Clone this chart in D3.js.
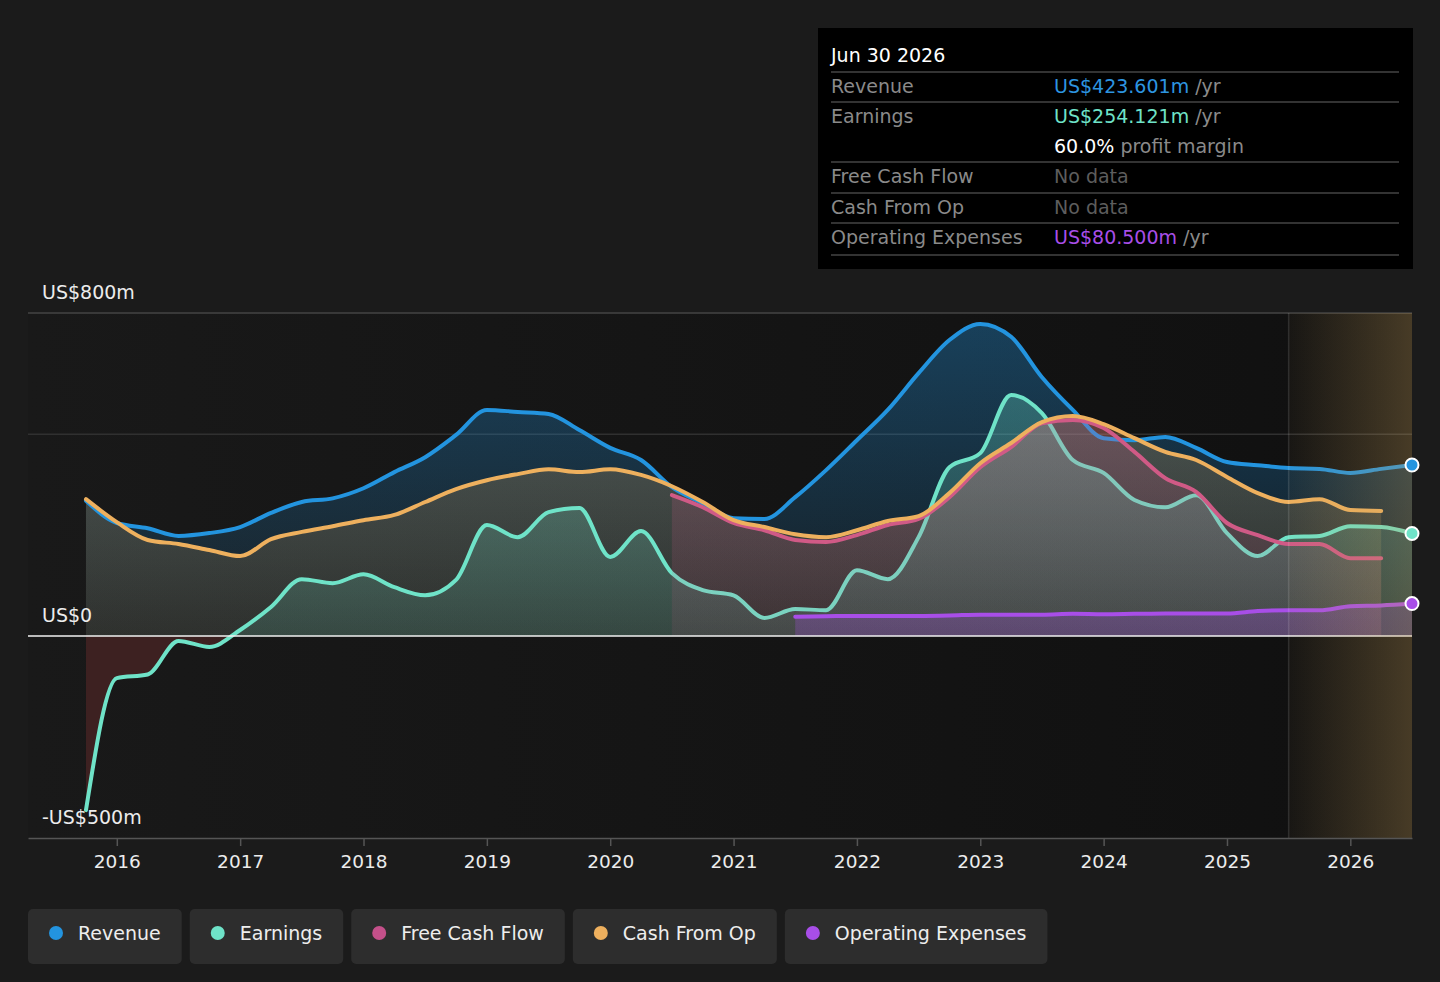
<!DOCTYPE html>
<html>
<head>
<meta charset="utf-8">
<script src="https://cdn.jsdelivr.net/npm/d3@7"></script>
<style>
body { margin: 0; background: #1b1b1b; }
svg { display: block; font-family: "DejaVu Sans", sans-serif; }
</style>
</head>
<body>
<svg id="chart" width="1440" height="982"></svg>
<script>
// quarter ends, as fractional years
var quarters = [2015.75,
  2016, 2016.25, 2016.5, 2016.75,
  2017, 2017.25, 2017.5, 2017.75,
  2018, 2018.25, 2018.5, 2018.75,
  2019, 2019.25, 2019.5, 2019.75,
  2020, 2020.25, 2020.5, 2020.75,
  2021, 2021.25, 2021.5, 2021.75,
  2022, 2022.25, 2022.5, 2022.75,
  2023, 2023.25, 2023.5, 2023.75,
  2024, 2024.25, 2024.5, 2024.75,
  2025, 2025.25, 2025.5, 2025.75,
  2026, 2026.25, 2026.5]

// US$m, trailing twelve months
var revenue = [335,
  280, 267, 248, 255,
  270, 305, 332, 341,
  366, 406, 443, 498,
  560, 555, 550, 510,
  466, 436, 369, 329,
  292, 290, 344, 411,
  485, 560, 651, 733,
  773, 741, 641, 560,
  490, 485, 493, 466,
  431, 423, 416, 414,
  404, 414, 423.6]

var earnings = [-431,
  -104, -95, -12, -27,
  15, 72, 141, 131,
  153, 121, 101, 139,
  275, 245, 307, 317,
  196, 260, 156, 114,
  101, 45, 67, 64,
  163, 141, 245, 418,
  453, 597, 552, 436,
  404, 337, 319, 349,
  255, 198, 245, 248,
  272, 270, 254.1]

var cashFromOp = [339,
  282, 238, 228, 213,
  198, 240, 258, 272,
  287, 300, 332, 364,
  386, 401, 413, 406,
  413, 399, 371, 332,
  287, 270, 252, 245,
  262, 285, 297, 354,
  428, 478, 530, 545,
  525, 490, 456, 436,
  394, 354, 332, 339,
  312, 310]

var fcfFrom = 2020.5
var freeCashFlow = [349, 319,
  280, 262, 238, 233,
  250, 275, 290, 344,
  418, 468, 527, 535,
  515, 456, 391, 357,
  280, 250, 228, 228,
  193, 193]

var opexFrom = 2021.5
var opex = [48, 49,
  50, 50, 50, 51,
  53, 53, 53, 55,
  54, 55, 56, 56,
  56, 62, 64, 64,
  74, 76, 80.5]

var forecastFrom = 2025.5
var xTickYears = [2016, 2017, 2018, 2019, 2020, 2021, 2022, 2023, 2024, 2025, 2026]
var yTickValues = [800, 0, -500]
var yTickLabels = ["US$800m", "US$0", "-US$500m"]
var gridValues = [800, 500]

var legendNames = ["Revenue", "Earnings", "Free Cash Flow", "Cash From Op", "Operating Expenses"]
var legendColors = ["#2394df", "#6fe3c8", "#c4508a", "#eeb05e", "#a84ee8"]

var tipDate = "Jun 30 2026"
var tipLabels = ["Revenue", "Earnings", "", "Free Cash Flow", "Cash From Op", "Operating Expenses"]
var tipValues = ["US$423.601m", "US$254.121m", "60.0%", "No data", "No data", "US$80.500m"]
var tipSuffix = [" /yr", " /yr", " profit margin", "", "", " /yr"]
var tipColors = ["#2d95e0", "#6fe3c8", "#ffffff", "#5d5d5d", "#5d5d5d", "#a84ee8"]

var plotLeft = 28, plotRight = 1412, plotTop = 313, plotBottom = 838

var xScale = d3.scaleLinear().domain([2015.28, 2026.5]).range([plotLeft, plotRight])
var yScale = d3.scaleLinear().domain([-500, 800]).range([plotBottom, plotTop])

var svg = d3.select("#chart")
svg.append("rect").attr("width", 1440).attr("height", 982).attr("fill", "#1b1b1b")

var defs = svg.append("defs")

function pointsFrom(values, fromYear) {
    var start = quarters.indexOf(fromYear)
    return values.map(function(v, i) { return [quarters[start + i], v] })
}

function addVGradient(id, color, topOp, botOp) {
    var g = defs.append("linearGradient").attr("id", id)
	.attr("gradientUnits", "userSpaceOnUse")
	.attr("x1", 0).attr("x2", 0)
	.attr("y1", yScale(800)).attr("y2", yScale(0))
    g.append("stop").attr("offset", "0%").attr("stop-color", color).attr("stop-opacity", topOp)
    g.append("stop").attr("offset", "100%").attr("stop-color", color).attr("stop-opacity", botOp)
}

addVGradient("gRev", "#2394df", 0.36, 0.08)
addVGradient("gEarn", "#6fe3c8", 0.34, 0.14)
addVGradient("gCfo", "#eeb05e", 0.3, 0.1)
addVGradient("gFcf", "#d05a86", 0.3, 0.1)
addVGradient("gOpex", "#a84ee8", 0.4, 0.25)

var bgGrad = defs.append("linearGradient").attr("id", "gBg")
bgGrad.append("stop").attr("offset", "0%").attr("stop-color", "#191919")
bgGrad.append("stop").attr("offset", "100%").attr("stop-color", "#101010")

var fcGrad = defs.append("linearGradient").attr("id", "gForecast")
fcGrad.append("stop").attr("offset", "0%").attr("stop-color", "rgb(200,160,90)").attr("stop-opacity", 0.04)
fcGrad.append("stop").attr("offset", "100%").attr("stop-color", "rgb(200,160,90)").attr("stop-opacity", 0.3)

defs.append("clipPath").attr("id", "clipPos").append("rect")
    .attr("x", plotLeft).attr("y", plotTop)
    .attr("width", plotRight - plotLeft).attr("height", yScale(0) - plotTop)
defs.append("clipPath").attr("id", "clipNeg").append("rect")
    .attr("x", plotLeft).attr("y", yScale(0))
    .attr("width", plotRight - plotLeft).attr("height", plotBottom - yScale(0))

// plot background
svg.append("rect")
    .attr("x", plotLeft).attr("y", plotTop)
    .attr("width", plotRight - plotLeft).attr("height", plotBottom - plotTop)
    .attr("fill", "url(#gBg)")

// grid
svg.append("g").selectAll("line").data(gridValues).enter().append("line")
    .attr("x1", plotLeft).attr("x2", plotRight)
    .attr("y1", function(d) { return yScale(d) }).attr("y2", function(d) { return yScale(d) })
    .attr("stroke", function(d) { return d == 800 ? "#444" : "#303030" })
    .attr("stroke-width", 1.5)

var lineGen = d3.line()
    .x(function(d) { return xScale(d[0]) })
    .y(function(d) { return yScale(d[1]) })
    .curve(d3.curveMonotoneX)

var areaGen = d3.area()
    .x(function(d) { return xScale(d[0]) })
    .y0(yScale(0))
    .y1(function(d) { return yScale(d[1]) })
    .curve(d3.curveMonotoneX)

var revPts = pointsFrom(revenue, quarters[0])
var earnPts = pointsFrom(earnings, quarters[0])
var cfoPts = pointsFrom(cashFromOp, quarters[0])
var fcfPts = pointsFrom(freeCashFlow, fcfFrom)
var opexPts = pointsFrom(opex, opexFrom)

var layer = svg.append("g")

layer.append("path").attr("d", areaGen(revPts)).attr("fill", "url(#gRev)")
layer.append("path").attr("d", areaGen(cfoPts)).attr("fill", "url(#gCfo)")
layer.append("path").attr("d", areaGen(earnPts)).attr("fill", "url(#gEarn)").attr("clip-path", "url(#clipPos)")
layer.append("path").attr("d", areaGen(earnPts)).attr("fill", "#4a2424").attr("fill-opacity", 0.75).attr("clip-path", "url(#clipNeg)")

function drawLine(pts, color) {
    layer.append("path").attr("d", lineGen(pts))
	.attr("fill", "none").attr("stroke", color)
	.attr("stroke-width", 4).attr("stroke-linejoin", "round").attr("stroke-linecap", "round")
}

drawLine(revPts, "#2394df")
drawLine(earnPts, "#6fe3c8")

layer.append("path").attr("d", areaGen(fcfPts)).attr("fill", "url(#gFcf)")
drawLine(fcfPts, "#d05a86")
drawLine(cfoPts, "#eeb05e")

layer.append("path").attr("d", areaGen(opexPts)).attr("fill", "url(#gOpex)")
drawLine(opexPts, "#a84ee8")

// zero line
svg.append("line")
    .attr("x1", plotLeft).attr("x2", plotRight)
    .attr("y1", yScale(0)).attr("y2", yScale(0))
    .attr("stroke", "#f2f2f2").attr("stroke-width", 1.5)

// forecast shading
svg.append("rect")
    .attr("x", xScale(forecastFrom)).attr("y", plotTop)
    .attr("width", plotRight - xScale(forecastFrom)).attr("height", plotBottom - plotTop)
    .attr("fill", "url(#gForecast)")
svg.append("line")
    .attr("x1", xScale(forecastFrom)).attr("x2", xScale(forecastFrom))
    .attr("y1", plotTop).attr("y2", plotBottom)
    .attr("stroke", "#ffffff").attr("stroke-opacity", 0.12).attr("stroke-width", 1.5)

// end markers
var endPts = [[revPts[revPts.length - 1], "#2394df"],
	      [earnPts[earnPts.length - 1], "#6fe3c8"],
	      [opexPts[opexPts.length - 1], "#a84ee8"]]
svg.append("g").selectAll("circle").data(endPts).enter().append("circle")
    .attr("cx", function(d) { return xScale(d[0][0]) })
    .attr("cy", function(d) { return yScale(d[0][1]) })
    .attr("r", 6.5)
    .attr("fill", function(d) { return d[1] })
    .attr("stroke", "#ffffff").attr("stroke-width", 2)

// x axis
var xAxis = d3.axisBottom(xScale)
    .tickValues(xTickYears)
    .tickFormat(d3.format("d"))
    .tickSize(8)
    .tickSizeOuter(0)
    .tickPadding(9)
var xg = svg.append("g").attr("transform", "translate(0," + plotBottom + ")").call(xAxis)
xg.select(".domain").attr("stroke", "#555").attr("stroke-width", 1.5)
xg.selectAll(".tick line").attr("stroke", "#555").attr("stroke-width", 1.5)
xg.selectAll(".tick text").attr("fill", "#ececec").attr("font-size", "18.5px")
    .attr("font-family", "DejaVu Sans, sans-serif")

// y labels
svg.append("g").selectAll("text").data(yTickValues).enter().append("text")
    .attr("x", 42)
    .attr("y", function(d) { return yScale(d) - 14 })
    .attr("fill", "#ececec").attr("font-size", "19px")
    .text(function(d, i) { return yTickLabels[i] })

// legend
var legend = svg.append("g")
var lx = 28
legendNames.forEach(function(name, i) {
    var g = legend.append("g").attr("transform", "translate(" + lx + ",909)")
    var bg = g.append("rect").attr("height", 55).attr("rx", 5).attr("fill", "#2d2d2d")
    g.append("circle").attr("cx", 28).attr("cy", 24).attr("r", 7).attr("fill", legendColors[i])
    var t = g.append("text").attr("x", 50).attr("y", 31)
	.attr("fill", "#eeeeee").attr("font-size", "19px").text(name)
    var w = t.node().getComputedTextLength() + 71
    bg.attr("width", w)
    lx += w + 8
})

// tooltip box
var tip = svg.append("g")
tip.append("rect").attr("x", 818).attr("y", 28).attr("width", 595).attr("height", 241).attr("fill", "#000")
tip.append("text").attr("x", 831).attr("y", 62).attr("fill", "#ffffff").attr("font-size", "19px").text(tipDate)

var sepY = [72, 102, 162, 193, 223, 255]
tip.selectAll("line").data(sepY).enter().append("line")
    .attr("x1", 831).attr("x2", 1399)
    .attr("y1", function(d) { return d }).attr("y2", function(d) { return d })
    .attr("stroke", "#444").attr("stroke-width", 1.5)

var rowY = [93, 123, 153, 183, 214, 244]
tipLabels.forEach(function(label, i) {
    tip.append("text").attr("x", 831).attr("y", rowY[i])
	.attr("fill", "#8a8a8a").attr("font-size", "19px").text(label)
    var vt = tip.append("text").attr("x", 1054).attr("y", rowY[i]).attr("font-size", "19px")
    vt.append("tspan").attr("fill", tipColors[i]).text(tipValues[i])
    vt.append("tspan").attr("fill", "#8a8a8a").text(tipSuffix[i])
})
</script>
</body>
</html>
